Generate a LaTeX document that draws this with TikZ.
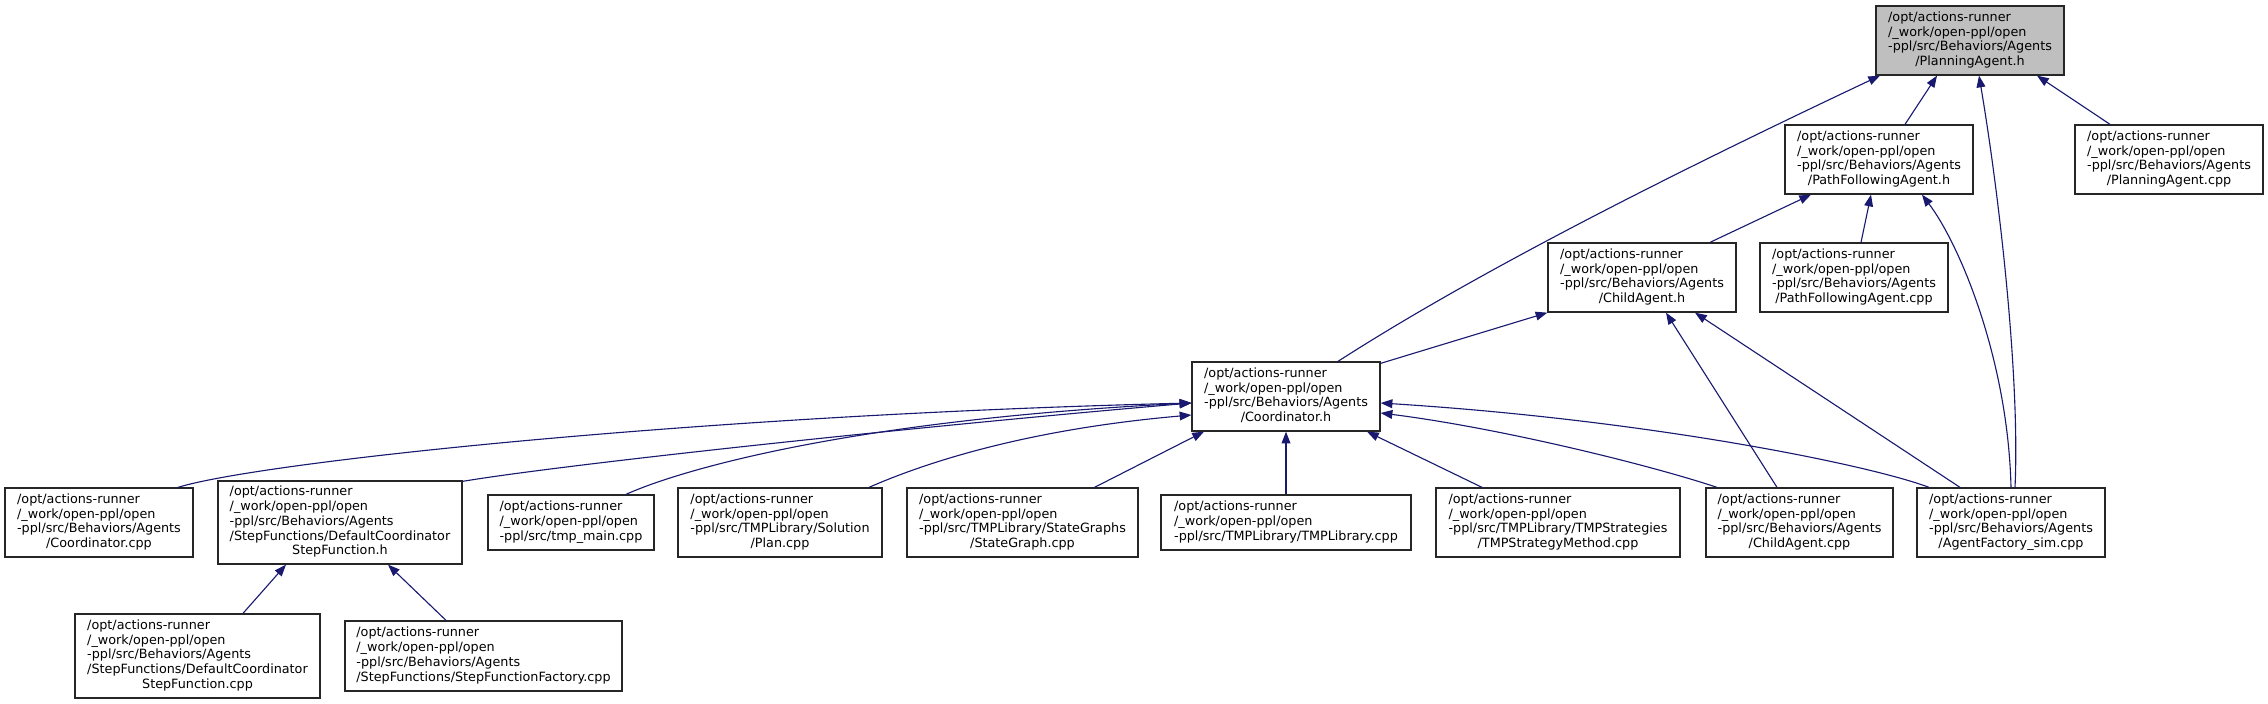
\documentclass[tikz,border=0pt]{standalone}
\usepackage{fontspec}
\setmainfont{DejaVu Sans}
\usetikzlibrary{arrows.meta}
\newdimen\pxu \pxu=0.03cm
\definecolor{edgeblue}{HTML}{191970}
\definecolor{rootgray}{HTML}{BFBFBF}
\newcommand\dxl[2]{\begin{tabular}{@{}l@{}}#1\\\multicolumn{1}{@{}c@{}}{#2}\end{tabular}}
\begin{document}
\begin{tikzpicture}[x=0.03cm,y=-0.03cm,
  box/.style={draw=black!85, line width=1.1pt, fill=white, inner sep=0pt,
    minimum height=69\pxu, font=\fontsize{10.9}{12.6}\selectfont},
  edge/.style={draw=edgeblue, fill=none, line width=0.95pt, -{Triangle[length=10pt,width=7.5pt]}}]
\useasboundingbox (0,0) rectangle (2268,704);
\fill[white] (0,0) rectangle (2268,704);

\node[box, fill=rootgray, minimum width=188\pxu] (pah) at (1970,40.5) {\dxl{/opt/actions-runner\\/\_work/open-ppl/open\\-ppl/src/Behaviors/Agents}{/PlanningAgent.h}};
\node[box, minimum width=188\pxu] (pfah) at (1879,159.5) {\dxl{/opt/actions-runner\\/\_work/open-ppl/open\\-ppl/src/Behaviors/Agents}{/PathFollowingAgent.h}};
\node[box, minimum width=188\pxu] (pacpp) at (2169,159.5) {\dxl{/opt/actions-runner\\/\_work/open-ppl/open\\-ppl/src/Behaviors/Agents}{/PlanningAgent.cpp}};
\node[box, minimum width=188\pxu] (cah) at (1642,277.5) {\dxl{/opt/actions-runner\\/\_work/open-ppl/open\\-ppl/src/Behaviors/Agents}{/ChildAgent.h}};
\node[box, minimum width=188\pxu] (pfacpp) at (1854,277.5) {\dxl{/opt/actions-runner\\/\_work/open-ppl/open\\-ppl/src/Behaviors/Agents}{/PathFollowingAgent.cpp}};
\node[box, minimum width=188\pxu] (coh) at (1286,396.5) {\dxl{/opt/actions-runner\\/\_work/open-ppl/open\\-ppl/src/Behaviors/Agents}{/Coordinator.h}};

\node[box, minimum width=188\pxu] (cocpp) at (99,522.5) {\dxl{/opt/actions-runner\\/\_work/open-ppl/open\\-ppl/src/Behaviors/Agents}{/Coordinator.cpp}};
\node[box, minimum width=244\pxu, minimum height=83\pxu] (dcsfh) at (340,522.5) {\dxl{/opt/actions-runner\\/\_work/open-ppl/open\\-ppl/src/Behaviors/Agents\\/StepFunctions/DefaultCoordinator}{StepFunction.h}};
\node[box, minimum width=166\pxu, minimum height=55\pxu] (tmpmain) at (571,522.5) {\dxl{/opt/actions-runner\\/\_work/open-ppl/open}{-ppl/src/tmp\_main.cpp}};
\node[box, minimum width=204\pxu] (plancpp) at (780,522.5) {\dxl{/opt/actions-runner\\/\_work/open-ppl/open\\-ppl/src/TMPLibrary/Solution}{/Plan.cpp}};
\node[box, minimum width=231\pxu] (sgcpp) at (1022.5,522.5) {\dxl{/opt/actions-runner\\/\_work/open-ppl/open\\-ppl/src/TMPLibrary/StateGraphs}{/StateGraph.cpp}};
\node[box, minimum width=250\pxu, minimum height=55\pxu] (tmplib) at (1286,522.5) {\dxl{/opt/actions-runner\\/\_work/open-ppl/open}{-ppl/src/TMPLibrary/TMPLibrary.cpp}};
\node[box, minimum width=244\pxu] (tmpsm) at (1558,522.5) {\dxl{/opt/actions-runner\\/\_work/open-ppl/open\\-ppl/src/TMPLibrary/TMPStrategies}{/TMPStrategyMethod.cpp}};
\node[box, minimum width=187\pxu] (cacpp) at (1799.5,522.5) {\dxl{/opt/actions-runner\\/\_work/open-ppl/open\\-ppl/src/Behaviors/Agents}{/ChildAgent.cpp}};
\node[box, minimum width=188\pxu] (afsim) at (2011,522.5) {\dxl{/opt/actions-runner\\/\_work/open-ppl/open\\-ppl/src/Behaviors/Agents}{/AgentFactory\_sim.cpp}};

\node[box, minimum width=245\pxu, minimum height=84\pxu] (dcsfcpp) at (197.5,656) {\dxl{/opt/actions-runner\\/\_work/open-ppl/open\\-ppl/src/Behaviors/Agents\\/StepFunctions/DefaultCoordinator}{StepFunction.cpp}};
\node[box, minimum width=277\pxu, minimum height=70\pxu] (sffcpp) at (483.5,656) {\dxl{/opt/actions-runner\\/\_work/open-ppl/open\\-ppl/src/Behaviors/Agents}{/StepFunctions/StepFunctionFactory.cpp}};

% edges to PlanningAgent.h
\draw[edge] ([xshift=52\pxu]coh.north) .. controls (1480,270) and (1680,170) .. ([xshift=-90\pxu]pah.south);
\draw[edge] ([xshift=26\pxu]pfah.north) -- ([xshift=-33\pxu]pah.south);
\draw[edge] ([xshift=4\pxu]afsim.north) .. controls (2020,380) and (2000,200) .. ([xshift=9\pxu]pah.south);
\draw[edge] ([xshift=-59\pxu]pacpp.north) -- ([xshift=67\pxu]pah.south);
% edges to PathFollowingAgent.h
\draw[edge] ([xshift=68\pxu]cah.north) -- ([xshift=-68\pxu]pfah.south);
\draw[edge] ([xshift=7\pxu]pfacpp.north) -- ([xshift=-8\pxu]pfah.south);
\draw[edge] (afsim.north) .. controls (2008,360) and (1960,245) .. ([xshift=43\pxu]pfah.south);
% edges to ChildAgent.h
\draw[edge] ([yshift=-2\pxu]coh.north east) -- (cah.south west);
\draw[edge] ([xshift=-22.5\pxu]cacpp.north) -- ([xshift=24\pxu]cah.south);
\draw[edge] ([xshift=-51\pxu]afsim.north) -- ([xshift=53\pxu]cah.south);
% edges to Coordinator.h
\draw[edge] ([xshift=79\pxu]cocpp.north) .. controls (260,462) and (700,415) .. ([yshift=-6.5\pxu]coh.west);
\draw[edge] ([yshift=-1\pxu]dcsfh.north east) .. controls (560,465) and (900,428) .. ([yshift=-6.5\pxu]coh.west);
\draw[edge] ([xshift=55\pxu]tmpmain.north) .. controls (680,470) and (850,420) .. ([yshift=-6.5\pxu]coh.west);
\draw[edge] ([xshift=89\pxu]plancpp.north) .. controls (920,465) and (1020,430) .. ([yshift=-18.5\pxu]coh.west);
\draw[edge] ([xshift=72\pxu]sgcpp.north) -- ([xshift=-82\pxu]coh.south);
\draw[edge] (tmplib.north) -- (coh.south);
\draw[edge] ([xshift=-76\pxu]tmpsm.north) -- ([xshift=81\pxu]coh.south);
\draw[edge] ([xshift=-82.5\pxu]cacpp.north) .. controls (1650,465) and (1500,428) .. ([yshift=-16.5\pxu]coh.east);
\draw[edge] ([xshift=-82\pxu]afsim.north) .. controls (1870,465) and (1650,420) .. ([yshift=-6.5\pxu]coh.east);
% edges to DefaultCoordinatorStepFunction.h
\draw[edge] ([xshift=45.5\pxu]dcsfcpp.north) -- ([xshift=-54\pxu]dcsfh.south);
\draw[edge] ([xshift=-37.5\pxu]sffcpp.north) -- ([xshift=48\pxu]dcsfh.south);
\end{tikzpicture}
\end{document}
